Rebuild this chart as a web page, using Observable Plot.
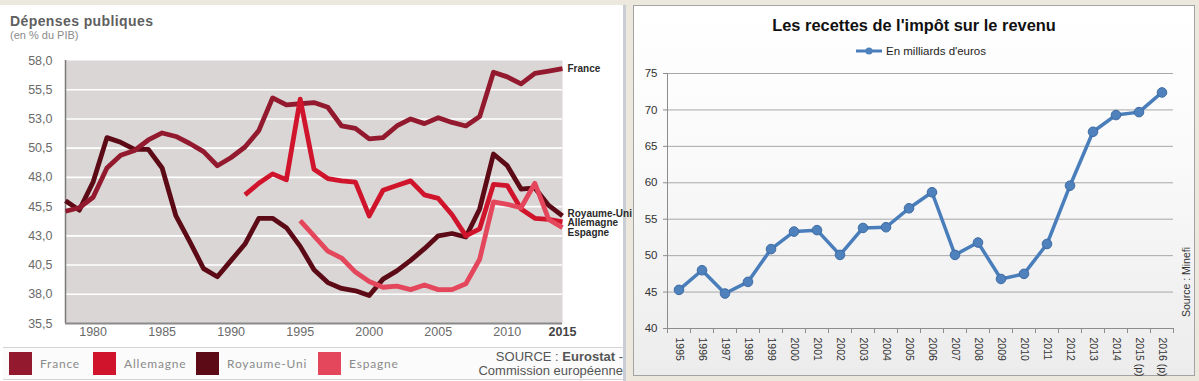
<!DOCTYPE html>
<html><head><meta charset="utf-8">
<script src="https://cdn.jsdelivr.net/npm/d3@7"></script>
<script src="https://cdn.jsdelivr.net/npm/@observablehq/plot@0.6"></script>
<style>
html,body{margin:0;padding:0}
body{width:1199px;height:381px;background:#ece8de;position:relative;overflow:hidden;font-family:"Liberation Sans",Arial,sans-serif}
#leftPanel{position:absolute;left:0;top:5px;width:626px;height:376px;background:#fff;border-right:3px solid #c9ced4;box-sizing:border-box}
#rightPanel{position:absolute;left:633px;top:5px;width:562px;height:371px;border:1px solid #a3a3a3;box-sizing:border-box;background:linear-gradient(#ffffff 0%,#fafafa 40%,#ececec 100%)}
.abs{position:absolute;white-space:nowrap}
#ltitle{left:10px;top:13px;font-size:14px;font-weight:bold;color:#5f5f5f;letter-spacing:0.4px}
#lsub{left:10px;top:29px;font-size:11px;color:#8a8a8a}
#legendBand{position:absolute;left:3px;top:347px;width:620px;height:31px;border-top:1px solid #d4d4d4;border-bottom:1px solid #d4d4d4;background:#fbfbfb}
.sw{position:absolute;top:352px;width:23px;height:23px}
.lg{position:absolute;top:356px;font-size:12px;color:#8a8a8a;letter-spacing:0.8px;font-family:Lato,"Open Sans",sans-serif}
#src{top:350px;text-align:right;font-size:13px;color:#555;line-height:14px}
#rtitle{left:633px;width:562px;top:16px;text-align:center;font-size:16.4px;font-weight:bold;color:#111}
#rleg{left:855px;top:45px;font-size:11.5px;color:#222;display:flex;align-items:center;gap:3px}
#rsrc{left:1151px;top:276px;width:70px;font-size:10.5px;color:#333;transform:rotate(-90deg);text-align:center}
svg.plotsvg{position:absolute}
</style></head>
<body>
<div id="leftPanel"></div>
<div id="rightPanel"></div>
<div class="abs" id="ltitle">Dépenses publiques</div>
<div class="abs" id="lsub">(en % du PIB)</div>
<div id="legendBand"></div>
<div id="legendItems"></div>
<div class="abs" id="src" style="left:0;width:623px">SOURCE : <b>Eurostat</b> -<br>Commission européenne</div>
<div class="abs" id="rtitle">Les recettes de l'impôt sur le revenu</div>
<div class="abs" id="rleg"><svg width="28" height="10"><line x1="1" y1="5" x2="27" y2="5" stroke="#4a7ebb" stroke-width="3"/><circle cx="14" cy="5" r="3.6" fill="#4f81bd"/></svg><span>En milliards d'euros</span></div>
<div class="abs" id="rsrc">Source : Minefi</div>
<script>
// ---------- Left chart data: Dépenses publiques (en % du PIB) ----------
const years = [1978,1979,1980,1981,1982,1983,1984,1985,1986,1987,1988,1989,1990,1991,1992,1993,1994,1995,1996,1997,1998,1999,2000,2001,2002,2003,2004,2005,2006,2007,2008,2009,2010,2011,2012,2013,2014];
const france = [45.1,45.4,46.3,48.8,49.9,50.3,51.2,51.8,51.5,50.9,50.2,49.0,49.7,50.6,52.0,54.8,54.2,54.3,54.4,54.0,52.4,52.2,51.3,51.4,52.4,53.0,52.6,53.1,52.7,52.4,53.2,57.0,56.6,56.0,56.9,57.1,57.3];
const royaumeUni = [46.0,45.2,47.6,51.4,51.0,50.4,50.4,48.8,44.7,42.5,40.2,39.5,40.9,42.3,44.5,44.5,43.7,42.1,40.1,39.0,38.5,38.3,37.9,39.3,40.0,40.9,41.9,43.0,43.2,42.9,45.3,50.0,49.0,47.0,47.1,45.6,44.7];
const allemagne = [null,null,null,null,null,null,null,null,null,null,null,null,null,46.5,47.5,48.3,47.8,54.7,48.7,47.9,47.7,47.6,44.7,46.9,47.3,47.7,46.5,46.2,44.8,43.0,43.6,47.4,47.3,45.3,44.5,44.4,44.2];
const espagne = [null,null,null,null,null,null,null,null,null,null,null,null,null,null,null,null,null,44.3,43.0,41.7,41.1,39.9,39.1,38.6,38.7,38.4,38.8,38.4,38.4,38.9,41.0,45.9,45.7,45.4,47.5,44.4,43.7];
const seriesNames = ["France","Allemagne","Royaume-Uni","Espagne"];
const seriesColors = ["#931a2e","#d0142c","#5c0a15","#e4475c"];
const yTicksLeft = [35.5,38.0,40.5,43.0,45.5,48.0,50.5,53.0,55.5,58.0];
const xTickYears = [1980,1985,1990,1995,2000,2005,2010];
const xEndTickLabel = "2015";

// ---------- Right chart data: Les recettes de l'impôt sur le revenu ----------
const categories = ["1995","1996","1997","1998","1999","2000","2001","2002","2003","2004","2005","2006","2007","2008","2009","2010","2011","2012","2013","2014","2015 (p)","2016 (p)"];
const recettes = [45.3,48.0,44.8,46.4,50.9,53.3,53.5,50.1,53.8,53.9,56.5,58.7,50.1,51.8,46.8,47.5,51.6,59.6,67.0,69.3,69.7,72.4];
const yTicksRight = [40,45,50,55,60,65,70,75];

// build left rows (draw order: UK, France, Germany, Spain)
const seriesValues = {"France": france, "Allemagne": allemagne, "Royaume-Uni": royaumeUni, "Espagne": espagne};
const drawOrder = ["Royaume-Uni","France","Allemagne","Espagne"];
const rows = [];
for (const name of drawOrder) {
  seriesValues[name].forEach((v, i) => { if (v != null) rows.push({series: name, year: years[i], value: v}); });
}
const lastYear = years[years.length - 1];
const endLabels = seriesNames.map(n => ({series: n, year: lastYear, value: seriesValues[n][seriesValues[n].length - 1]}));
const endDy = {"France": 0, "Royaume-Uni": -2, "Allemagne": 1, "Espagne": 5};
const fmt = d => d.toFixed(1).replace(".", ",");

const left = Plot.plot({
  width: 627, height: 346,
  marginTop: 60, marginBottom: 23, marginLeft: 65, marginRight: 65,
  x: {domain: [years[0], lastYear]},
  y: {domain: [yTicksLeft[0], yTicksLeft[yTicksLeft.length - 1]]},
  color: {domain: seriesNames, range: seriesColors},
  style: {background: "transparent", fontFamily: "'Liberation Sans', Arial, sans-serif", overflow: "visible"},
  marks: [
    Plot.frame({fill: "#d9d6d5", stroke: null}),
    Plot.ruleY(yTicksLeft.slice(1, -1), {stroke: "#ffffff", strokeWidth: 1.6}),
    Plot.ruleX([years[0]], {stroke: "#7a7a7a", strokeWidth: 1.5}),
    Plot.ruleY([yTicksLeft[0]], {stroke: "#8a8a8a", strokeWidth: 2}),
    Plot.axisY(yTicksLeft, {tickSize: 0, tickPadding: 13, tickFormat: fmt, fontSize: 12.5, fill: "#6a6a6a", label: null}),
    Plot.axisX(xTickYears, {tickSize: 0, tickPadding: 4, tickFormat: d => String(d), fontSize: 12.5, fill: "#6a6a6a", label: null}),
    Plot.text([xEndTickLabel], {x: () => lastYear, text: d => d, frameAnchor: "bottom", lineAnchor: "top", dy: 4, fontSize: 12.5, fontWeight: "bold", fill: "#444"}),
    Plot.line(rows, {x: "year", y: "value", z: "series", stroke: "series", strokeWidth: 4.8, strokeLinejoin: "round", strokeLinecap: "butt"}),
    ...endLabels.map(e => Plot.text([e], {x: "year", y: "value", text: "series", textAnchor: "start", dx: 5, dy: endDy[e.series], fontSize: 10, fontWeight: "bold", fill: "#2a2a2a", fontFamily: "'Liberation Sans Narrow', 'Liberation Sans', Arial, sans-serif"}))
  ]
});
left.classList.add("plotsvg");
left.style.left = "0px"; left.style.top = "0px";
document.body.appendChild(left);

// left legend
const items = document.getElementById("legendItems");
const swX = [9, 93, 196, 318];
seriesNames.forEach((n, i) => {
  const s = document.createElement("div"); s.className = "sw"; s.style.left = swX[i] + "px"; s.style.background = seriesColors[i];
  const t = document.createElement("div"); t.className = "lg"; t.style.left = (swX[i] + 31) + "px"; t.textContent = n;
  items.appendChild(s); items.appendChild(t);
});

// right chart
const idx = categories.map((c, i) => i);
const boundaries = categories.map((c, i) => i - 0.5).concat([categories.length - 0.5]);
const right = Plot.plot({
  width: 562, height: 316,
  marginTop: 13, marginBottom: 48, marginLeft: 34, marginRight: 22,
  x: {domain: [-0.5, categories.length - 0.5]},
  y: {domain: [yTicksRight[0], yTicksRight[yTicksRight.length - 1]]},
  style: {background: "transparent", fontFamily: "'Liberation Sans', Arial, sans-serif", overflow: "visible"},
  marks: [
    Plot.ruleY(yTicksRight.slice(1), {stroke: "#a8a8a8", strokeWidth: 1}),
    Plot.ruleX([-0.5], {stroke: "#8c8c8c"}),
    Plot.ruleY([yTicksRight[0]], {stroke: "#8c8c8c"}),
    Plot.axisY(yTicksRight, {tickSize: 4, tickPadding: 6, stroke: "#8c8c8c", fill: "#333", fontSize: 11.5, label: null}),
    Plot.axisX(boundaries, {tickSize: 5, tickFormat: () => "", stroke: "#8c8c8c", label: null}),
    Plot.axisX(idx, {tickSize: 0, tickPadding: 9, tickRotate: 90, tickFormat: i => categories[i], fontSize: 10.5, fill: "#333", label: null}),
    Plot.line(recettes, {x: (d, i) => i, y: d => d, stroke: "#4a7ebb", strokeWidth: 3.5, strokeLinejoin: "round"}),
    Plot.dot(recettes, {x: (d, i) => i, y: d => d, r: 4.8, fill: "#4f81bd", stroke: "#3e6ba3", strokeWidth: 1})
  ]
});
right.classList.add("plotsvg");
right.style.left = "633px"; right.style.top = "60px";
document.body.appendChild(right);
</script>
</body></html>
